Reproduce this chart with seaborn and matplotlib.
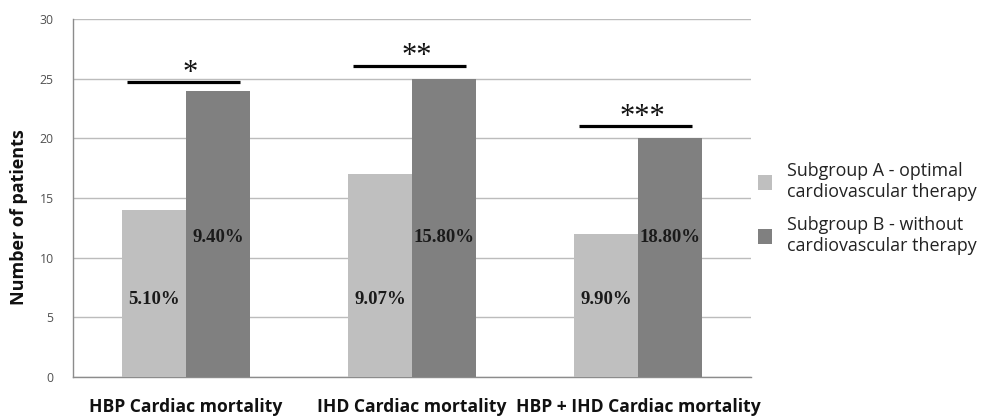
import numpy as np
import pandas as pd
import matplotlib
matplotlib.use('Agg')
import matplotlib.pyplot as plt
import seaborn as sns
from matplotlib.patches import Patch

categories = ["HBP Cardiac mortality", "IHD Cardiac mortality", "HBP + IHD Cardiac mortality"]
groups = ["Subgroup A - optimal\ncardiovascular therapy",
          "Subgroup B - without\ncardiovascular therapy"]
patients_a = [14, 17, 12]
patients_b = [24, 25, 20]
pct_a = ["5.10%", "9.07%", "9.90%"]
pct_b = ["9.40%", "15.80%", "18.80%"]
stars = ["*", "**", "***"]

colors = ["#bfbfbf", "#808080"]

df = pd.DataFrame({
    "category": categories * 2,
    "patients": patients_a + patients_b,
    "group": [groups[0]] * 3 + [groups[1]] * 3,
})

sns.set_style("white")
plt.rcParams['font.family'] = ['Open Sans', 'DejaVu Sans']

fig = plt.figure(figsize=(9.84, 4.16), dpi=100)
ax = fig.add_axes([0.0742, 0.094, 0.689, 0.860])

bar_w = 0.566
sns.barplot(data=df, x="category", y="patients", hue="group", palette=colors,
            width=bar_w, gap=0, ax=ax, legend=False, zorder=3, saturation=1,
            linewidth=0, edgecolor="none")

ax.set_ylim(0, 30)
ax.set_xlim(-0.5, 2.5)
ax.set_yticks(range(0, 31, 5))
ax.yaxis.grid(True, color="#bcbcbc", linewidth=1.0, zorder=0)
ax.set_axisbelow(True)

for s in ["top", "right"]:
    ax.spines[s].set_visible(False)
for s in ["left", "bottom"]:
    ax.spines[s].set_color("#8c8c8c")
    ax.spines[s].set_linewidth(1.0)

ax.tick_params(axis="y", length=4, color="#8c8c8c", labelsize=8.8,
               labelcolor="#505050", pad=10)
ax.set_xticks([0, 1, 2])
ax.set_xticklabels(categories, fontsize=12.6, fontweight="bold", color="#111111")
ax.tick_params(axis="x", length=0, pad=15)
# tick marks at category boundaries
ax.set_xticks([-0.5, 0.5, 1.5, 2.5], minor=True)
ax.tick_params(axis="x", which="minor", length=5, color="#8c8c8c")

ax.set_xlabel("")
ax.set_ylabel("Number of patients", fontsize=13, fontweight="bold", color="#111111")
ax.yaxis.set_label_coords(-0.066, 0.447)

quarter = bar_w / 4
for i in range(len(categories)):
    ax.text(i - quarter, 6.45, pct_a[i], ha="center", va="center",
            family="Liberation Serif", fontweight="bold", fontsize=13.5, color="#1a1a1a")
    ax.text(i + quarter, 11.73, pct_b[i], ha="center", va="center",
            family="Liberation Serif", fontweight="bold", fontsize=13.5, color="#1a1a1a")

sig_offsets = [0.7, 1.1, 1.0]
for i in range(len(categories)):
    y = max(patients_a[i], patients_b[i]) + sig_offsets[i]
    ax.plot([i - 0.26, i + 0.24], [y, y], color="black", lw=2.3, zorder=4,
            solid_capstyle="butt")
    ax.text(i + 0.02, y + 0.1, stars[i], ha="center", va="baseline",
            family="Liberation Serif", fontsize=22, color="#111111")

handles = [Patch(facecolor=c, edgecolor="none") for c in colors]
fig.legend(handles, groups, loc="center left", bbox_to_anchor=(0.770, 0.498),
           frameon=False, fontsize=12.9, handlelength=0.8, handleheight=0.9,
           handletextpad=0.85, labelspacing=0.85, labelcolor="#222222",
           borderpad=0, borderaxespad=0)

fig.savefig("out.png", dpi=100)
